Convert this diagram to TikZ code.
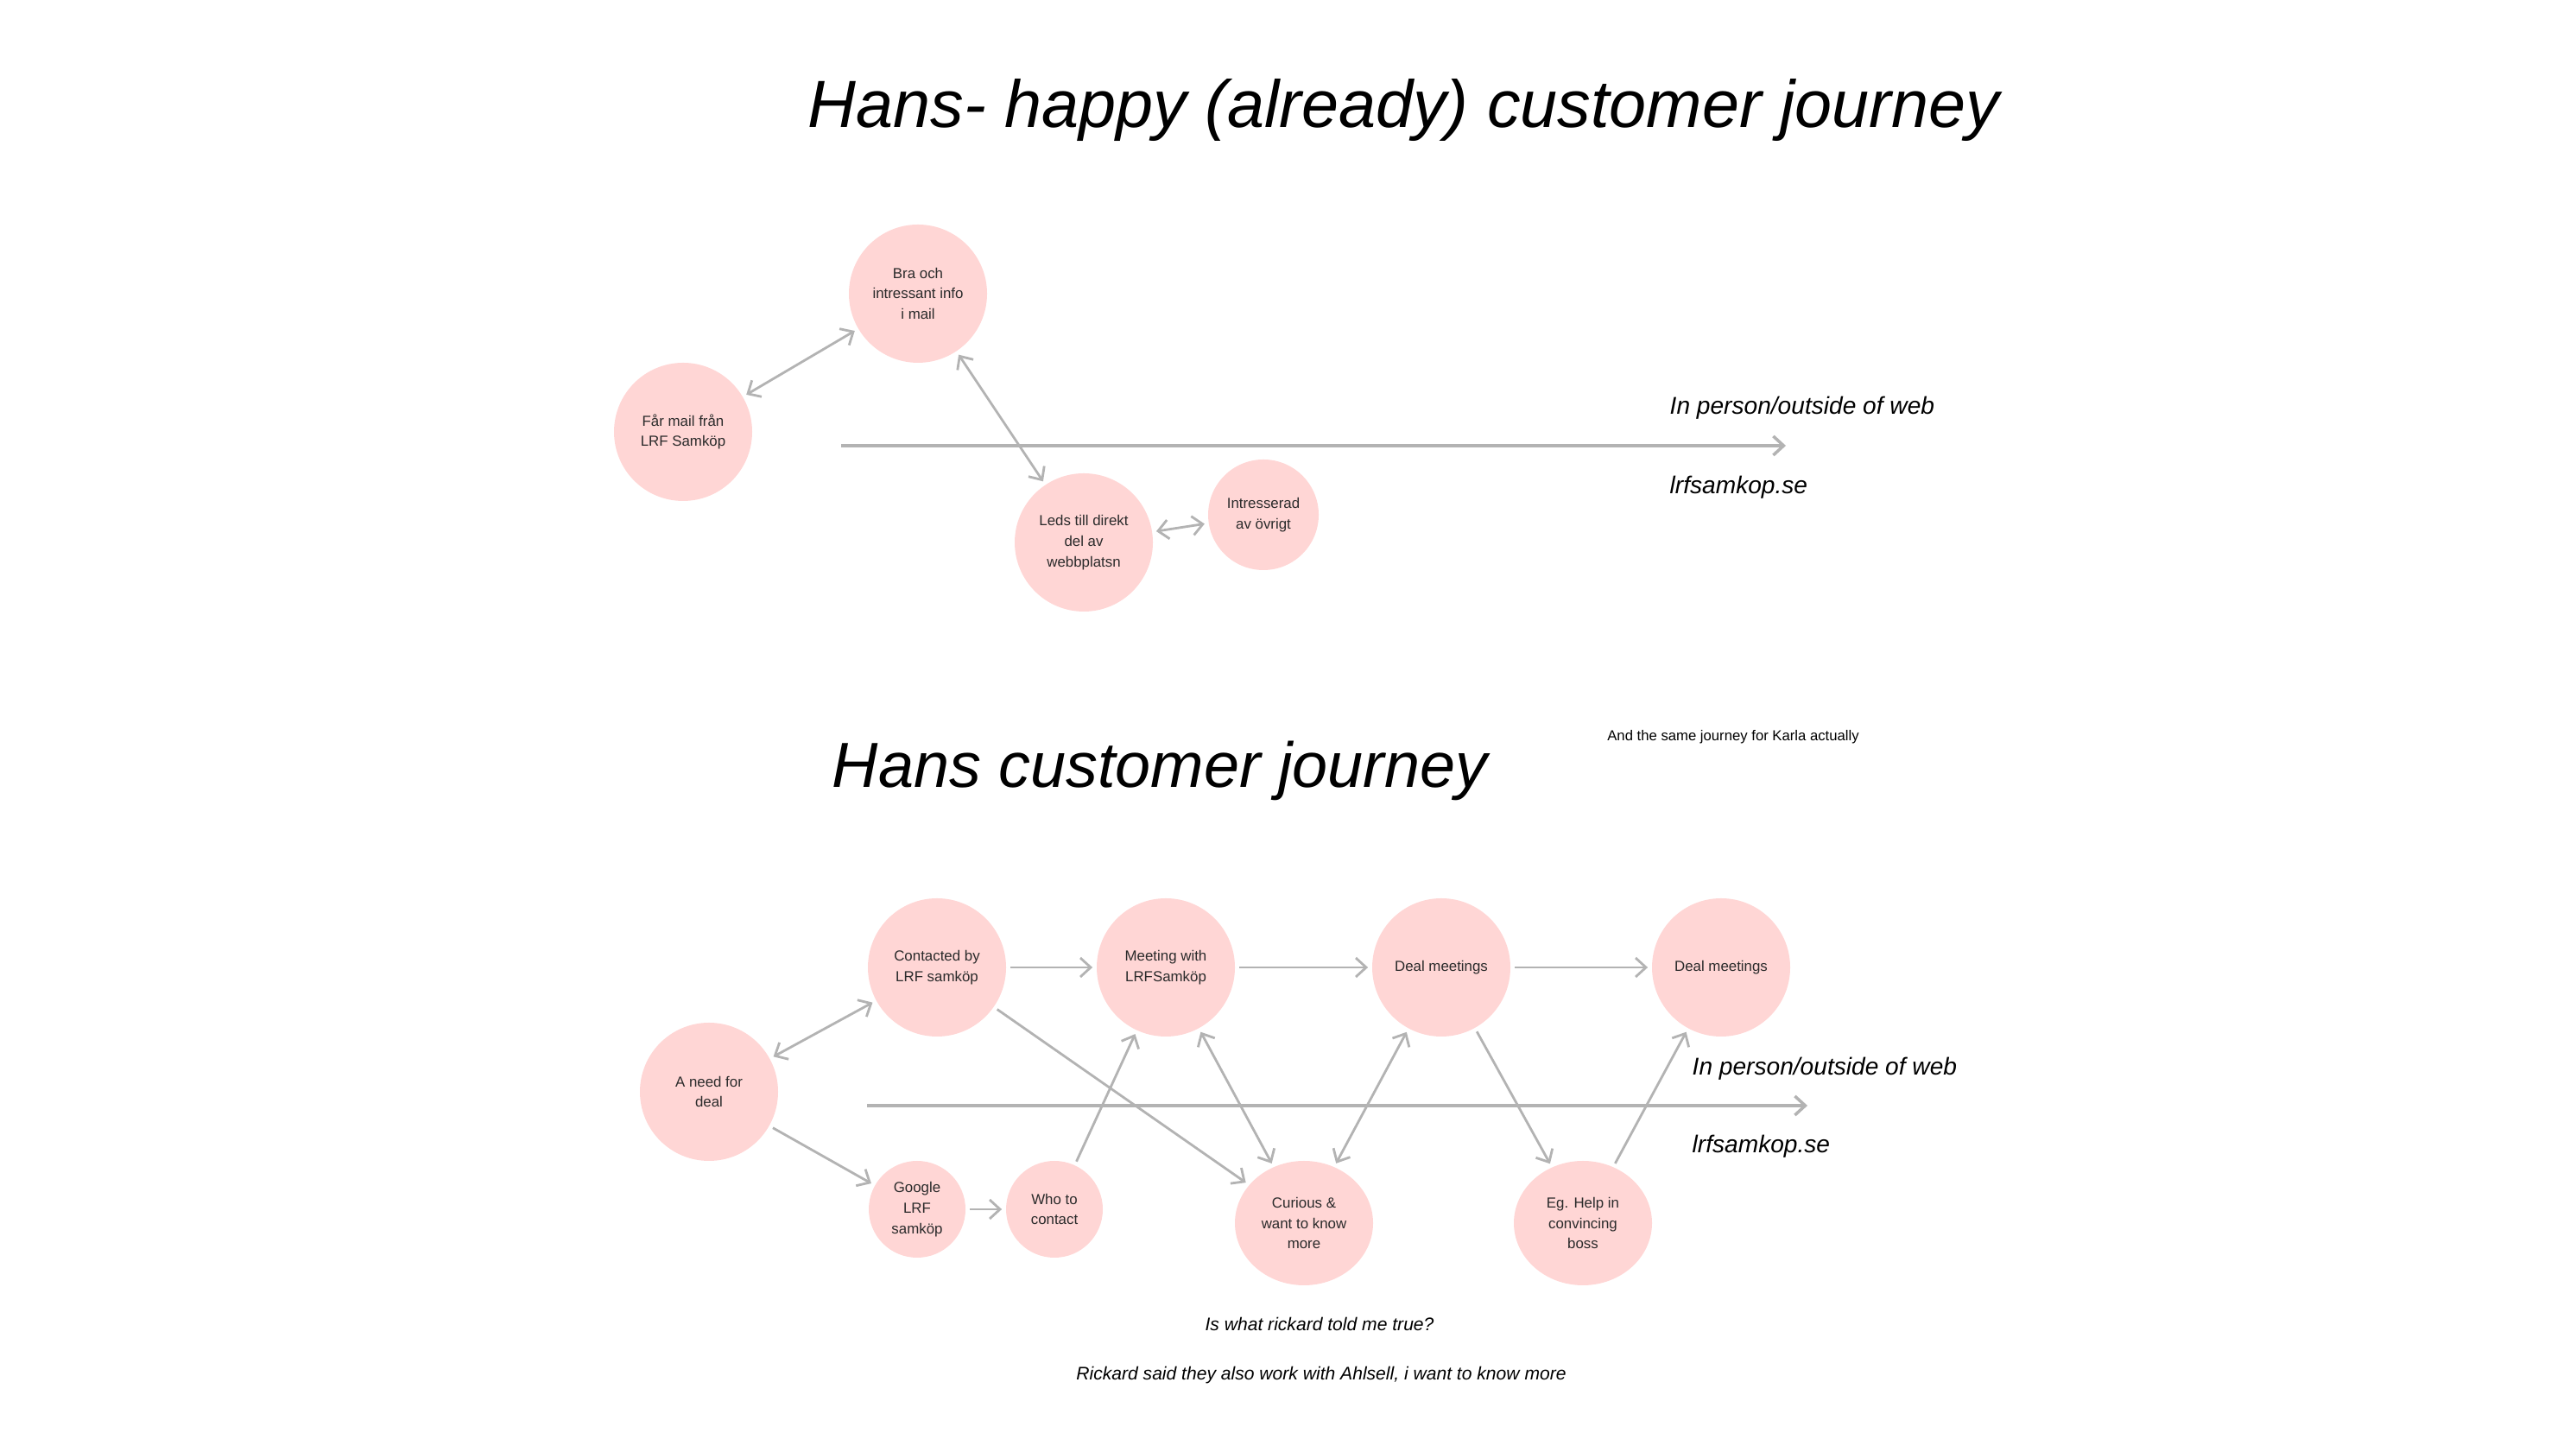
\documentclass[tikz,border=0pt]{standalone}
\usepackage{fontspec}
\setmainfont{Liberation Sans}
\newfontfamily\handfont{Liberation Sans}
\usepackage{xcolor}
\usetikzlibrary{arrows.meta,shapes.geometric}
\definecolor{bubblepink}{HTML}{FFD6D5}
\definecolor{linegray}{HTML}{B3B3B3}
\definecolor{inkgray}{HTML}{2B2B2B}

\begin{document}
\begin{tikzpicture}[
    touchpoint/.style={circle,fill=bubblepink,minimum size=1.6cm,inner sep=0pt,align=center,
      text=inkgray,font=\fontsize{4.8}{6.8}\selectfont},
    smallpoint/.style={touchpoint,minimum size=1.12cm},
    ovalpoint/.style={touchpoint,ellipse,minimum width=1.6cm,minimum height=1.44cm},
    link/.style={draw=linegray,line width=0.8pt,shorten >=1.2pt,shorten <=1.2pt},
    axis/.style={draw=linegray,line width=1pt},
    handtitle/.style={inner sep=0pt,text=black,font=\handfont\itshape\fontsize{21}{25}\selectfont},
    hand/.style={inner sep=0pt,text=black,font=\handfont\itshape\fontsize{8}{10}\selectfont},
    handnote/.style={inner sep=0pt,text=black,font=\handfont\itshape\fontsize{6}{8}\selectfont},
    remark/.style={inner sep=0pt,text=black,font=\fontsize{4.75}{6}\selectfont},
    >={Straight Barb[length=1.2mm,width=2.2mm]}
  ]
    \useasboundingbox (0,0) rectangle (29.83,16.81);

    \node[handtitle,anchor=base west,font=\handfont\itshape\fontsize{22}{26}\selectfont] (toptitle)
      at (9.35,15.33) {Hans- happy (already) customer journey};
    \node[touchpoint] (far) at (7.91,11.81) {Får mail från\\LRF Samköp};
    \node[touchpoint] (bra) at (10.63,13.41) {Bra och\\intressant info\\i mail};
    \node[touchpoint] (leds) at (12.55,10.53) {Leds till direkt\\del av\\webbplatsn};
    \node[touchpoint,minimum size=1.28cm] (intr) at (14.63,10.85) {Intresserad\\av övrigt};
    \coordinate (topstart) at (9.74,11.65);
    \coordinate (topend) at (20.68,11.65);
    \draw[axis,->] (topstart) -- (topend);
    \node[hand,anchor=base west] (topweb) at (19.33,12.01) {In person/outside of web};
    \node[hand,anchor=base west] (topsite) at (19.33,11.09) {lrfsamkop.se};
    \draw[link,<->] (far) -- (bra);
    \draw[link,<->] (bra) -- (leds);
    \draw[link,<->] (leds) -- (intr);

    \node[handtitle,anchor=base west] (bottitle) at (9.63,7.69) {Hans customer journey};
    \node[remark,anchor=base] (karla) at (20.07,8.23) {And the same journey for Karla actually};
    \node[touchpoint] (need) at (8.21,4.17) {A need for\\deal};
    \node[touchpoint] (cont) at (10.85,5.61) {Contacted by\\LRF samköp};
    \node[touchpoint] (meet) at (13.50,5.61) {Meeting with\\LRFSamköp};
    \node[touchpoint] (deala) at (16.69,5.61) {Deal meetings};
    \node[touchpoint] (dealb) at (19.93,5.61) {Deal meetings};
    \node[smallpoint] (goog) at (10.62,2.81) {Google\\LRF\\samköp};
    \node[smallpoint] (who) at (12.21,2.81) {Who to\\contact};
    \node[ovalpoint] (cur) at (15.10,2.65) {Curious \&\\want to know\\more};
    \node[ovalpoint] (eg) at (18.33,2.65) {Eg. Help in\\convincing\\boss};
    \coordinate (botstart) at (10.04,4.01);
    \coordinate (botend) at (20.93,4.01);
    \draw[axis,->] (botstart) -- (botend);
    \node[hand,anchor=base west] (botweb) at (19.59,4.36) {In person/outside of web};
    \node[hand,anchor=base west] (botsite) at (19.59,3.46) {lrfsamkop.se};
    \draw[link,<->] (need) -- (cont);
    \draw[link,->] (need) -- (goog);
    \draw[link,->] (goog) -- (who);
    \draw[link,->] (cont) -- (meet);
    \draw[link,->] (meet) -- (deala);
    \draw[link,->] (deala) -- (dealb);
    \draw[link,->] (cont) -- (cur);
    \draw[link,->] (who) -- (meet);
    \draw[link,<->] (meet) -- (cur);
    \draw[link,<->] (deala) -- (cur);
    \draw[link,->] (deala) -- (eg);
    \draw[link,->] (eg) -- (dealb);
    \node[handnote,anchor=base] (truenote) at (15.28,1.40) {Is what rickard told me true?};
    \node[handnote,anchor=base] (ahlsellnote) at (15.30,0.83) {Rickard said they also work with Ahlsell, i want to know more};
  \end{tikzpicture}
\end{document}
